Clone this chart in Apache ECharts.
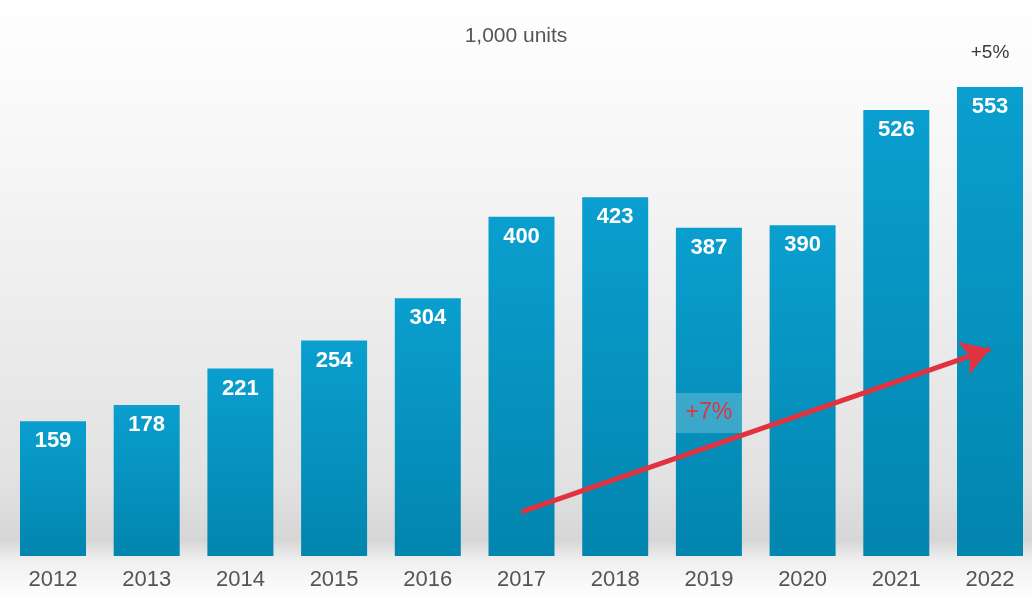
<!DOCTYPE html>
<html><head><meta charset="utf-8">
<script src="https://cdn.jsdelivr.net/npm/echarts@6/dist/echarts.min.js"></script>
<style>html,body{margin:0;padding:0;background:#fff}#c{width:1032px;height:600px}</style>
</head><body><div id="c"></div>
<script>
const years = ['2012','2013','2014','2015','2016','2017','2018','2019','2020','2021','2022'];
const units = [159,178,221,254,304,400,423,387,390,526,553];
const unitLabel = '1,000 units';
const cagrLabel = '+7%';
const lastGrowthLabel = '+5%';
const arrowStart = ['2017', 52];
const arrowEnd = ['2022', 244];

const chart = echarts.init(document.getElementById('c'));
chart.setOption({
  animation: false,
  backgroundColor: new echarts.graphic.LinearGradient(0,0,0,1,[
    {offset:0,color:'#ffffff'},{offset:0.3,color:'#f5f5f5'},{offset:0.8,color:'#e2e2e2'},{offset:0.9,color:'#d6d6d6'},{offset:0.935,color:'#f0f0f0'},{offset:1,color:'#ffffff'}
  ]),
  title: {text: unitLabel, left: 'center', top: 21, textStyle:{fontFamily:'Liberation Sans, Arial', fontSize:21, fontWeight:'normal', color:'#555'}},
  grid: {left: 53, right: 42, top: 47.2, bottom: 44},
  xAxis: {type:'category', data: years, boundaryGap:false, axisLine:{show:false}, axisTick:{show:false},
    axisLabel:{color:'#555', fontSize:22, margin:13, fontFamily:'Liberation Sans, Arial'}},
  yAxis: {type:'value', min:0, max:600, show:false, splitLine:{show:false}},
  series: [{
    type:'bar', data: units, barWidth: 66, clip:false,
    itemStyle:{color:new echarts.graphic.LinearGradient(0,0,0,1,[{offset:0,color:'#0a9fcf'},{offset:1,color:'#0285ae'}])},
    label:{show:true, position:'insideTop', distance:9, color:'#fff', fontSize:22, fontWeight:'bold', fontFamily:'Liberation Sans, Arial'},
    markPoint:{
      symbol:'rect', silent:true,
      data:[
        {coord:['2019',168.6], symbolSize:[66,40], itemStyle:{color:'rgba(255,255,255,0.22)'},
         label:{show:true, formatter: cagrLabel, color:'#e2323f', fontSize:23, fontFamily:'Liberation Sans, Arial'}},
        {coord:['2022',594], symbolSize:[1,1], itemStyle:{color:'rgba(0,0,0,0)'},
         label:{show:true, formatter: lastGrowthLabel, color:'#3a3a3a', fontSize:19, fontFamily:'Liberation Sans, Arial'}}
      ]
    },
    markLine:{
      silent:true, symbol:['none','arrow'], symbolSize:[26,28],
      lineStyle:{color:'#e2323f', width:5, type:'solid'},
      label:{show:false},
      data:[[{coord:arrowStart},{coord:arrowEnd}]]
    }
  }]
});
</script></body></html>
